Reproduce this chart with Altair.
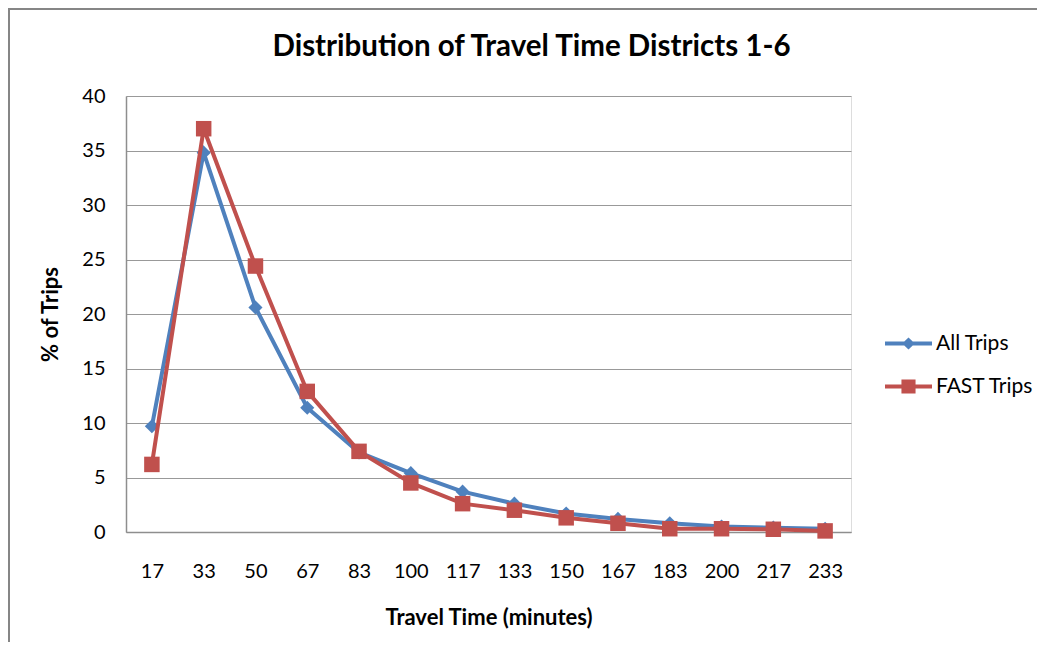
import altair as alt
import pandas as pd

# ---- data ----
travel_time = ["17", "33", "50", "67", "83", "100", "117", "133", "150", "167", "183", "200", "217", "233"]
all_trips = [9.7, 34.8, 20.6, 11.4, 7.3, 5.4, 3.7, 2.6, 1.7, 1.2, 0.8, 0.5, 0.4, 0.3]
fast_trips = [6.2, 37.0, 24.4, 12.9, 7.4, 4.5, 2.6, 2.0, 1.3, 0.8, 0.3, 0.3, 0.25, 0.1]
series_names = ["All Trips", "FAST Trips"]
series_colors = ["#4F81BD", "#C0504D"]
y_ticks = [0, 5, 10, 15, 20, 25, 30, 35, 40]

rows = []
for name, vals in zip(series_names, [all_trips, fast_trips]):
    for t, v in zip(travel_time, vals):
        rows.append({"time": t, "value": v, "series": name})
df = pd.DataFrame(rows)

W, H = 725, 436
FONT = "Lato"

DIAMOND_PATH = ("M-1,-0.08L-0.18,-0.08L0,-0.26L0.18,-0.08L1,-0.08L1,0.08"
                "L0.18,0.08L0,0.26L-0.18,0.08L-1,0.08Z")
SQUARE_PATH = ("M-1,-0.08L-0.3,-0.08L-0.3,-0.3L0.3,-0.3L0.3,-0.08L1,-0.08L1,0.08"
               "L0.3,0.08L0.3,0.3L-0.3,0.3L-0.3,0.08L-1,0.08Z")

x_enc = alt.X(
    "time:N",
    sort=travel_time,
    scale=alt.Scale(type="point", padding=0.5),
    axis=alt.Axis(
        labelAngle=0, labelFont=FONT, labelFontSize=20, labelColor="black",
        labelPadding=39, labelBaseline="middle", ticks=False, tickSize=0,
        grid=False, domainColor="#8E8E8E", domainWidth=1.5,
        titleFont=FONT, titleFontSize=22, titleFontWeight="bold", titleColor="black",
        titleX=W / 2, titleY=85, titleBaseline="middle", titleAlign="center",
    ),
    title="Travel Time (minutes)",
)
y_enc = alt.Y(
    "value:Q",
    scale=alt.Scale(domain=[0, 40], nice=False, zero=True),
    axis=alt.Axis(
        values=y_ticks, labelFont=FONT, labelFontSize=20, labelColor="black",
        labelPadding=21, ticks=False, tickSize=0,
        grid=True, gridColor="#999999", gridWidth=1,
        domainColor="#8E8E8E", domainWidth=1.5,
        titleFont=FONT, titleFontSize=22, titleFontWeight="bold", titleColor="black",
        titleAngle=-90, titleX=-76, titleY=H / 2, titleBaseline="middle", titleAlign="center",
    ),
    title="% of Trips",
)

legend = alt.Legend(
    title=None, orient="none", legendX=759, legendY=224,
    symbolSize=2209,
    symbolType=alt.ExprRef(expr="datum.value === 'All Trips' ? '" + DIAMOND_PATH + "' : '" + SQUARE_PATH + "'"),
    symbolStrokeWidth=0, symbolOpacity=1,
    labelFont=FONT, labelFontSize=21, labelColor="black", labelOffset=4,
    rowPadding=9, padding=0,
)
color_enc = alt.Color("series:N", scale=alt.Scale(domain=series_names, range=series_colors), legend=legend)

border = alt.Chart(pd.DataFrame({"k": [0]})).mark_rect(
    fill="transparent", stroke="#868686", strokeWidth=2
).encode(x=alt.value(-117), x2=alt.value(W + 400), y=alt.value(-87), y2=alt.value(H + 400))

layers = [border]
for name, col, shape, size in [("All Trips", series_colors[0], "diamond", 200),
                               ("FAST Trips", series_colors[1], "square", 240)]:
    base = alt.Chart(df).transform_filter(alt.datum.series == name)
    layers.append(base.mark_line(strokeWidth=4, color=col).encode(x=x_enc, y=y_enc))
    layers.append(base.mark_point(shape=shape, size=size, filled=True, opacity=1, strokeWidth=0)
                  .encode(x=x_enc, y=y_enc, color=color_enc))

chart = alt.layer(*layers).properties(
    width=W, height=H,
    title=alt.TitleParams(
        "Distribution of Travel Time Districts 1-6",
        font=FONT, fontSize=29.5, fontWeight="bold", color="black",
        anchor="middle", dx=43, offset=-77, baseline="alphabetic",
    ),
    autosize=alt.AutoSizeParams(type="none"),
    padding={"left": 118, "top": 88, "right": 186, "bottom": 110},
).configure_view(strokeWidth=0).configure(background="white")

chart.save("out.html", embed_options={"renderer": "svg", "actions": False})
